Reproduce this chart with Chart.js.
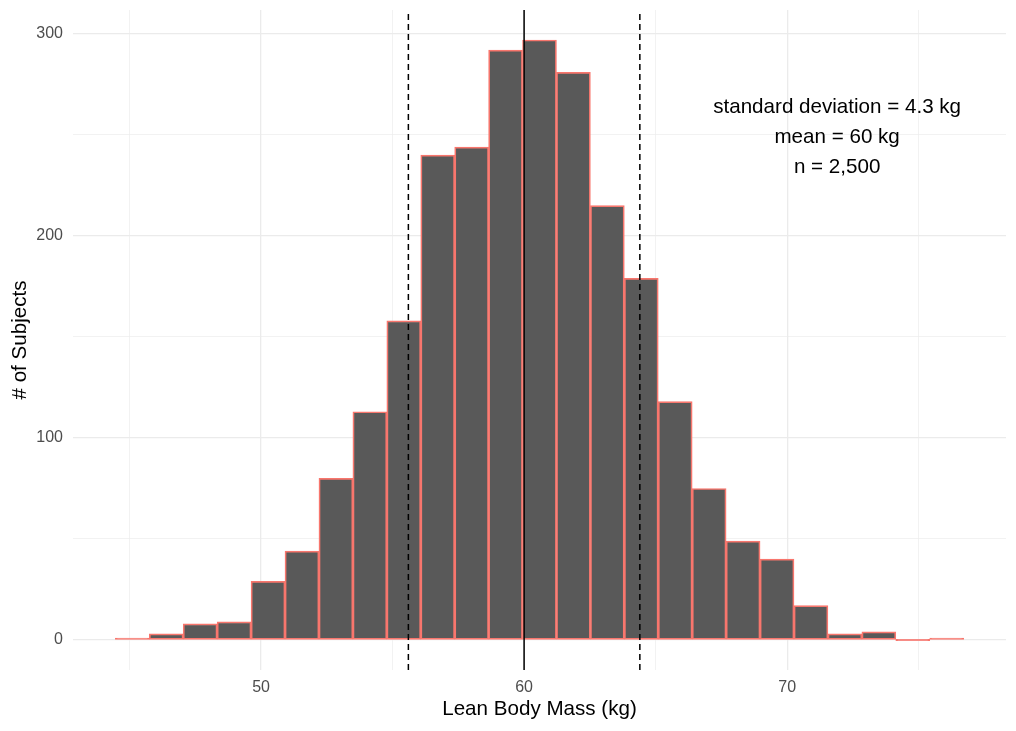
<!DOCTYPE html>
<html>
<head>
<meta charset="utf-8">
<script src="https://cdn.jsdelivr.net/npm/chart.js@4.4.1/dist/chart.umd.min.js"></script>
<style>
  html, body { margin: 0; padding: 0; background: #fff; }
  #wrap { width: 1016px; height: 731px; position: relative; }
</style>
</head>
<body>
<div id="wrap"><canvas id="chart1"></canvas></div>
<script>
  // histogram bins (kg) and counts
  const binCenters = [45.105, 46.395, 47.685, 48.975, 50.265, 51.555, 52.845, 54.135, 55.425, 56.715,
    58.005, 59.295, 60.585, 61.875, 63.165, 64.455, 65.745, 67.035, 68.325, 69.615,
    70.905, 72.195, 73.485, 74.775, 76.065];
  const counts = [1, 3, 8, 9, 29, 44, 80, 113, 158, 240, 244, 292, 297, 281, 215, 179, 118, 75, 49, 40, 17, 3, 4, 0, 1];

  const meanLine = 60;
  const sdLines = [55.6, 64.4];

  const xTickLabels = [50, 60, 70];
  const yTickLabels = [0, 100, 200, 300];

  const xRange = [42.85, 78.32];
  const yRange = [-14.85, 311.85];

  const annotationLines = ['standard deviation = 4.3 kg', 'mean = 60 kg', 'n = 2,500'];
  const annotationAt = [71.9, 249];

  const font = '"Liberation Sans", Arial, Helvetica, sans-serif';
  const salmon = '#F8766D';
  const barFill = '#595959';
  const gridCol = '#ebebeb';

  const ctx = document.getElementById('chart1').getContext('2d');

  const vline = (x, dash) => ({
    type: 'line',
    data: [{ x: x, y: yRange[0] }, { x: x, y: yRange[1] }],
    borderColor: '#000',
    borderWidth: 1.5,
    borderDash: dash,
    pointRadius: 0,
    fill: false,
    order: 1
  });

  const annotate = {
    id: 'annotate',
    afterDatasetsDraw(chart) {
      const c = chart.ctx;
      const x = chart.scales.x.getPixelForValue(annotationAt[0]);
      const y = chart.scales.y.getPixelForValue(annotationAt[1]);
      c.save();
      c.font = '20.6px ' + font;
      c.fillStyle = '#000';
      c.textAlign = 'center';
      c.textBaseline = 'middle';
      annotationLines.forEach((t, i) => {
        c.fillText(t, x, y + (i - 1) * 30);
      });
      c.restore();
    }
  };

  new Chart(ctx, {
    type: 'bar',
    data: {
      datasets: [
        vline(meanLine, []),
        vline(sdLines[0], [6, 4]),
        vline(sdLines[1], [6, 4]),
        {
          type: 'bar',
          data: binCenters.map((x, i) => ({ x: x, y: counts[i] })),
          // very short bars are all outline in the original
          backgroundColor: c => counts[c.dataIndex] <= 1 ? salmon : barFill,
          borderColor: salmon,
          borderWidth: 1.7,
          borderSkipped: false,
          minBarLength: 1.5,
          barPercentage: 1,
          categoryPercentage: 1,
          order: 2
        }
      ]
    },
    options: {
      responsive: true,
      maintainAspectRatio: false,
      animation: false,
      layout: { padding: { top: 10, right: 10, left: 0, bottom: 0 } },
      plugins: {
        legend: { display: false },
        tooltip: { enabled: false }
      },
      scales: {
        x: {
          type: 'linear',
          min: xRange[0],
          max: xRange[1],
          offset: false,
          border: { display: false },
          grid: {
            offset: false,
            drawTicks: false,
            color: gridCol,
            lineWidth: c => (c.tick && xTickLabels.includes(c.tick.value)) ? 1.3 : 0.65
          },
          ticks: {
            stepSize: 5,
            includeBounds: false,
            autoSkip: false,
            maxRotation: 0,
            padding: 8,
            color: '#4d4d4d',
            font: { family: font, size: 16 },
            callback: v => xTickLabels.includes(v) ? String(v) : ''
          },
          title: {
            display: true,
            text: 'Lean Body Mass (kg)',
            color: '#000',
            font: { family: font, size: 20.6 },
            padding: { top: 0, bottom: 9 }
          },
          afterFit: s => { s.height = 61; }
        },
        y: {
          min: yRange[0],
          max: yRange[1],
          border: { display: false },
          grid: {
            drawTicks: false,
            color: gridCol,
            lineWidth: c => (c.tick && yTickLabels.includes(c.tick.value)) ? 1.3 : 0.65
          },
          ticks: {
            stepSize: 50,
            includeBounds: false,
            autoSkip: false,
            padding: 10,
            color: '#4d4d4d',
            font: { family: font, size: 16 },
            callback: v => yTickLabels.includes(v) ? String(v) : ''
          },
          title: {
            display: true,
            text: '# of Subjects',
            color: '#000',
            font: { family: font, size: 20.6 },
            padding: { top: 8, bottom: 0 }
          },
          afterFit: s => { s.width = 73; s.paddingTop = 0; s.paddingBottom = 0; }
        }
      }
    },
    plugins: [annotate]
  });
</script>
</body>
</html>
